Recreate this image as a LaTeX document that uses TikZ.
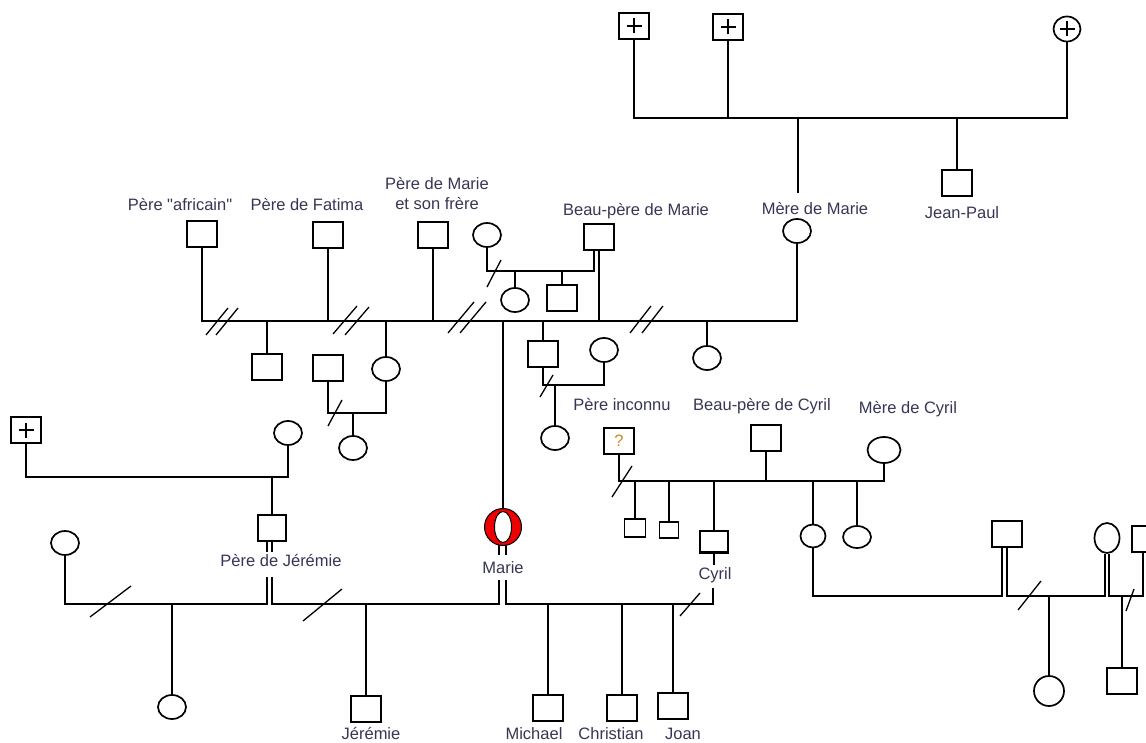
\documentclass[tikz,border=0pt]{standalone}
\usepackage{fontspec}
\setmainfont{Liberation Sans}
\newfontfamily\labfont{Liberation Sans}
\usetikzlibrary{shapes.geometric}
\definecolor{lab}{RGB}{55,55,85}
\definecolor{qmark}{RGB}{200,140,40}
\definecolor{mred}{RGB}{238,0,0}
\begin{document}
\begin{tikzpicture}[x=1pt,y=-1pt,
  line width=1.7pt,
  sq/.style={draw, rectangle, minimum width=30pt, minimum height=26pt, inner sep=0pt},
  ssq/.style={draw, rectangle, minimum width=20pt, minimum height=17pt, inner sep=0pt},
  ci/.style={draw, ellipse, minimum width=28pt, minimum height=24pt, inner sep=0pt},
  dead/.style={path picture={\draw[line width=1.3pt] ([xshift=-7.5pt]path picture bounding box.center) -- ([xshift=7.5pt]path picture bounding box.center) ([yshift=-7.5pt]path picture bounding box.center) -- ([yshift=7.5pt]path picture bounding box.center);}},
  lbl/.style={font=\labfont\fontsize{16.5}{20}\selectfont, text=lab, inner sep=0pt},
  cut/.style={line width=1.3pt},
  mring/.style={ellipse, draw, line width=1pt, inner sep=0pt}
]
\useasboundingbox (0,0) rectangle (1146,743);
\clip (0,0) rectangle (1146,743);
\fill[white] (0,0) rectangle (1146,743);

% ---------- top generation ----------
\node[sq,dead] (g1) at (634,26) {};
\node[sq,dead] (g2) at (728,27) {};
\node[ci,dead,minimum width=27pt,minimum height=25pt] (g3) at (1067,29) {};
\coordinate (t1) at (634,118);
\coordinate (t3) at (1067,118);
\draw (g1) -- (t1) -- (t3) -- (g3);
\draw (g2) -- (g2 |- t1);
\coordinate (tm) at (798,118);
\coordinate (tme) at (798,193);
\draw (tm) -- (tme);
\node[lbl] (lmm) at (815,209) {Mère de Marie};
\node[ci] (mm) at (797,231) {};
\node[sq] (jp) at (957,183) {};
\draw (jp) -- (jp |- t1);
\node[lbl] (ljp) at (962,213) {Jean-Paul};

% ---------- parents line ----------
\node[lbl] (lpa) at (180,205) {Père "africain"};
\node[sq] (pa) at (202,234) {};
\node[lbl] (lpf) at (307,205) {Père de Fatima};
\node[sq] (pf) at (328,235) {};
\node[lbl, align=center] (lpm) at (437,194) {Père de Marie\\et son frère};
\node[sq] (pm) at (433,235) {};
\node[lbl] (lbp) at (636,211) {Beau-père de Marie};
\node[sq] (bp) at (599,237) {};

\coordinate (m0) at (202,321);
\coordinate (m9) at (797,321);
\draw (pa) -- (m0) -- (m9) -- (mm);
\draw (pf) -- (pf |- m0);
\draw (pm) -- (pm |- m0);

% small family of the Beau-pere
\node[ci] (c1) at (487,235) {};
\coordinate (h2a) at (487,271);
\coordinate (h2b) at (594,271);
\draw (c1) -- (h2a) -- (h2b) -- ([xshift=-5pt]bp.south);
\draw (bp.south) -- (bp.south |- m0);
\node[ci] (c2) at (515,300) {};
\draw (c2 |- h2a) -- (c2);
\node[sq] (s2) at (562,298) {};
\draw (s2 |- h2a) -- (s2);
\draw[cut] (487,287) -- (501,260);

% double slashes on the parents line
\draw[cut] (206,335) -- (228,308) (216,335) -- (238,308);
\draw[cut] (333,334) -- (357,306) (345,335) -- (369,307);
\draw[cut] (448,333) -- (474,302) (460,333) -- (486,302);
\draw[cut] (630,333) -- (651,306) (642,333) -- (663,306);

% children of the parents line
\node[sq] (k1) at (267,367) {};
\draw (k1 |- m0) -- (k1);
\node[ci] (k2) at (386,369) {};
\draw (k2 |- m0) -- (k2);
\node[sq] (k4) at (543,354) {};
\draw (k4 |- m0) -- (k4);
\node[ci] (k5) at (707,358) {};
\draw (k5 |- m0) -- (k5);

% Fatima sub-family
\node[sq] (f1) at (328,368) {};
\coordinate (fa) at (328,413);
\coordinate (fb) at (386,413);
\draw (f1) -- (fa) -- (fb) -- (k2);
\node[ci] (f2) at (353,448) {};
\draw (f2 |- fa) -- (f2);
\draw[cut] (328,426) -- (342,400);

% sub-family below
\node[ci] (k6) at (604,350) {};
\coordinate (ka) at (543,385);
\coordinate (kb) at (604,385);
\draw (k4) -- (ka) -- (kb) -- (k6);
\node[ci] (k7) at (555,438) {};
\draw (k7 |- ka) -- (k7);
\draw[cut] (540,397) -- (553,375);

% ---------- Marie ----------
\node[mring, fill=mred, minimum width=37pt, minimum height=37pt] (ma) at (503,527) {};
\node[mring, fill=white, minimum width=17pt, minimum height=31pt] (mai) at (ma.center) {};
\draw (ma |- m0) -- (ma);
\node[lbl] (lma) at (503,568) {Marie};
\coordinate (ma1) at (499,545); \coordinate (ma2) at (499,555);
\coordinate (ma3) at (506,545); \coordinate (ma4) at (506,555);
\draw (ma1) -- (ma2) (ma3) -- (ma4);
\coordinate (ml0) at (499,580); \coordinate (ml) at (499,604);
\coordinate (mr0) at (506,580); \coordinate (mr) at (506,604);

% ---------- Jeremie's father ----------
\node[sq,dead,minimum width=30pt] (l1) at (26,430) {};
\node[ci] (l2) at (288,433) {};
\coordinate (la) at (26,477); \coordinate (lb) at (288,477);
\draw (l1) -- (la) -- (lb) -- (l2);
\node[sq,minimum width=28pt] (pj) at (272,528) {};
\draw (pj |- la) -- (pj);
\coordinate (pjA) at (267,552); \coordinate (pjB) at (272,552);
\draw ([xshift=-5pt]pj.south) -- (pjA);
\draw (pj.south) -- (pjB);
\node[lbl] (lpj) at (281,561) {Père de Jérémie};
\coordinate (pjC) at (267,577); \coordinate (pjD) at (272,577);
\coordinate (pjE) at (267,604); \coordinate (pjF) at (272,604);
\node[ci] (lc) at (65,543) {};
\coordinate (lca) at (65,604);
\draw (lc) -- (lca) -- (pjE) -- (pjC);
\draw (pjD) -- (pjF) -- (ml) -- (ml0);
\node[ci] (ld) at (172,707) {};
\draw (ld |- lca) -- (ld);
\draw[cut] (90,617) -- (131,586);
\node[sq] (jr) at (366,709) {};
\draw (jr |- lca) -- (jr);
\draw[cut] (303,621) -- (342,589);
\node[lbl] (ljr) at (371,734) {Jérémie};

% ---------- Marie and Cyril's children ----------
\coordinate (cyl) at (713,604);
\coordinate (cy0) at (713,588);
\draw (mr0) -- (mr) -- (cyl) -- (cy0);
\node[sq] (mi) at (548,708) {};
\draw (mi |- mr) -- (mi);
\node[sq] (chr) at (622,708) {};
\draw (chr |- mr) -- (chr);
\node[sq] (jo) at (673,706) {};
\draw (jo |- mr) -- (jo);
\draw[cut] (680,616) -- (700,593);
\node[lbl] (lmi) at (534,734) {Michael};
\node[lbl] (lch) at (611,734) {Christian};
\node[lbl] (ljo) at (683,734) {Joan};

% ---------- Cyril's family ----------
\node[lbl] (lpi) at (622,405) {Père inconnu};
\node[sq, lbl, text=qmark, draw=black, minimum width=30pt, minimum height=26pt] (pi) at (619,441) {?};
\node[ci, minimum width=33pt, minimum height=26pt] (mc) at (884,450) {};
\coordinate (pa1) at (619,481); \coordinate (pa2) at (884,481);
\draw (pi) -- (pa1) -- (pa2) -- (mc);
\draw[cut] (612,497) -- (632,466);
\node[ssq, minimum width=21pt, minimum height=18pt] (b1) at (635,528) {};
\draw (b1 |- pa1) -- (b1);
\node[ssq, minimum width=19pt, minimum height=16pt] (b2) at (669,530) {};
\draw (b2 |- pa1) -- (b2);
\node[sq, minimum width=28pt, minimum height=22pt] (cy) at (714,542) {};
\draw[line width=3.4pt] ([yshift=1.2pt]cy.south west) -- ([yshift=1.2pt]cy.south east);
\draw (cy |- pa1) -- (cy);
\coordinate (cy1) at (714,565);
\draw (cy) -- (cy1);
\node[lbl] (lcy) at (715,575) {Cyril};

\node[lbl] (lbc) at (762,406) {Beau-père de Cyril};
\node[sq] (bc) at (766,438) {};
\draw (bc) -- (bc |- pa1);
\node[lbl] (lmc) at (908,409) {Mère de Cyril};
\node[ci, minimum width=25pt, minimum height=23pt] (d1) at (813,536) {};
\node[ci, minimum width=28pt, minimum height=22pt] (d2) at (857,537) {};
\draw (d1 |- pa1) -- (d1);
\draw (d2 |- pa1) -- (d2);

% ---------- right family ----------
\node[sq] (rs1) at (1007,534) {};
\node[ci, minimum width=25pt, minimum height=30pt] (rc) at (1107,538) {};
\node[sq] (rs2) at (1147,539) {};
\coordinate (r0) at (813,596);
\coordinate (r1) at (1002,596);
\coordinate (r2) at (1007,596);
\coordinate (r3) at (1105,596);
\coordinate (r4) at (1109,596);
\coordinate (r5) at (1143,596);
\draw (d1) -- (r0) -- (r1) -- ([xshift=-5pt]rs1.south);
\draw (rs1.south) -- (r2) -- (r3) -- ([xshift=-2pt]rc.south);
\draw ([xshift=2pt]rc.south) -- (r4) -- (r5) -- (r5 |- rs2.south);
\node[ci, minimum width=30pt, minimum height=30pt] (rg) at (1049,691) {};
\draw (rg |- r0) -- (rg);
\node[sq] (rb) at (1122,681) {};
\draw (rb |- r0) -- (rb);
\draw[cut] (1018,610) -- (1041,581);
\draw[cut] (1126,611) -- (1134,589);
\end{tikzpicture}
\end{document}
